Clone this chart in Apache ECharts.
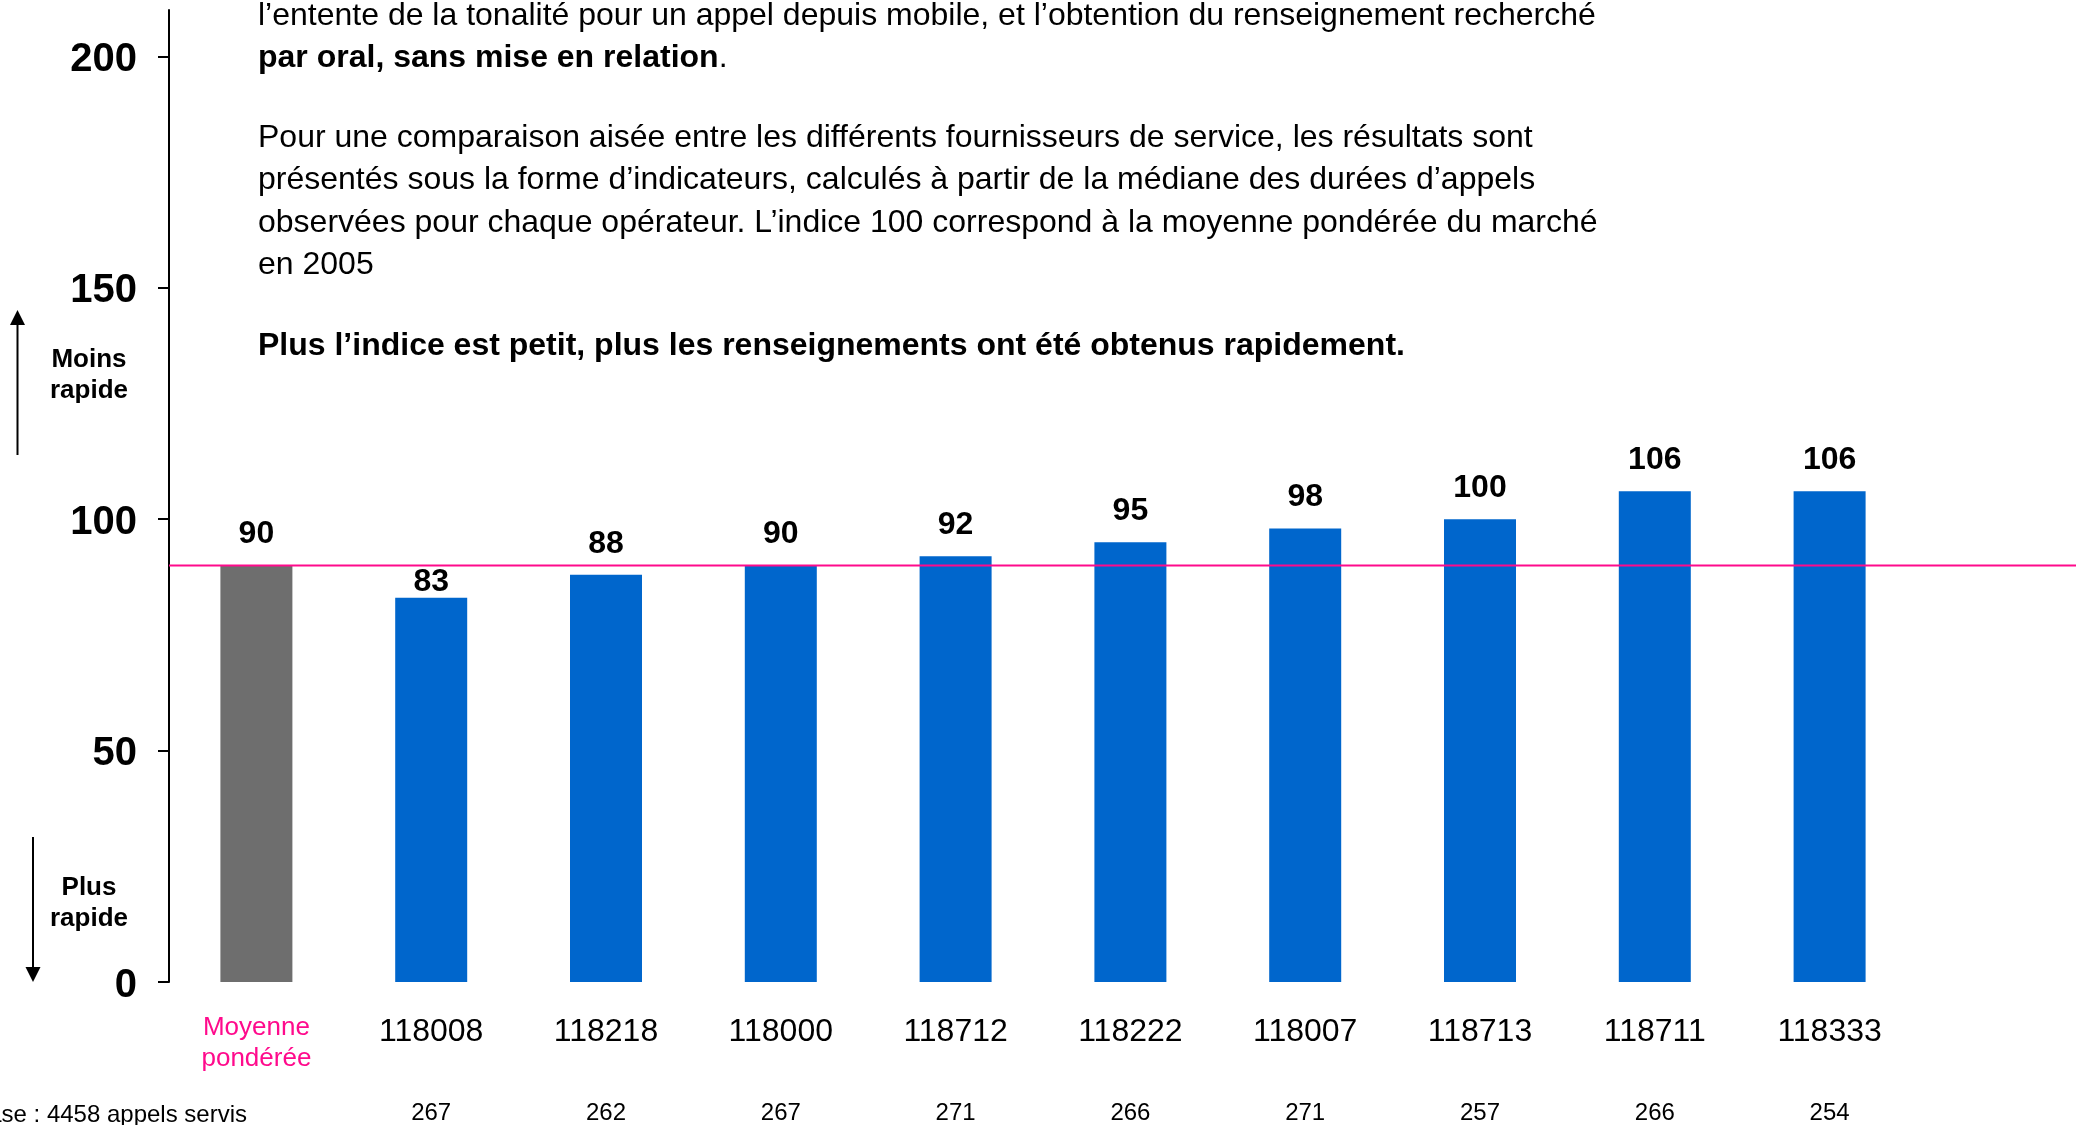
<!DOCTYPE html>
<html>
<head>
<meta charset="utf-8">
<title>Indice de rapidité</title>
<script src="https://cdn.jsdelivr.net/npm/echarts@6/dist/echarts.min.js"></script>
<style>
  html, body { margin: 0; padding: 0; background: #fff; }
  #chart { width: 2084px; height: 1125px; }
</style>
</head>
<body>
<div id="chart"></div>
<script>
// données
const categories = ['Moyenne pondérée', '118008', '118218', '118000', '118712', '118222', '118007', '118713', '118711', '118333'];
const indices = [90, 83, 88, 90, 92, 95, 98, 100, 106, 106];
const appelsServis = ['', '267', '262', '267', '271', '266', '271', '257', '266', '254'];
const moyenne = 90;
const yTicks = [0, 50, 100, 150, 200];
const baseLabel = 'Base : 4458 appels servis';

const intro1 = 'l’entente de la tonalité pour un appel depuis mobile, et l’obtention du renseignement recherché';
const intro2Bold = 'par oral, sans mise en relation';
const intro3 = [
  'Pour une comparaison aisée entre les différents fournisseurs de service, les résultats sont',
  'présentés sous la forme d’indicateurs, calculés à partir de la médiane des durées d’appels',
  'observées pour chaque opérateur. L’indice 100 correspond à la moyenne pondérée du marché',
  'en 2005'
];
const intro4 = 'Plus l’indice est petit, plus les renseignements ont été obtenus rapidement.';

const FONT = '"Liberation Sans", Arial, sans-serif';
const PINK = '#ff0a8c';
const BLUE = '#0066cc';
const GREY = '#6e6e6e';

const myChart = echarts.init(document.getElementById('chart'), null, { renderer: 'canvas' });

// barres : la première (moyenne) en gris
const barData = indices.map((v, i) => ({
  value: v,
  itemStyle: { color: i === 0 ? GREY : BLUE },
  // étiquette rapprochée quand elle croiserait la ligne de moyenne
  label: { distance: v < moyenne - 3 ? 0 : 15 }
}));

function txt(x, y, text, extra) {
  return {
    type: 'text',
    x: x,
    y: y,
    silent: true,
    style: Object.assign({
      text: text,
      fontFamily: FONT,
      fontSize: 32,
      fill: '#000',
      align: 'left',
      verticalAlign: 'middle'
    }, extra || {})
  };
}

const introX = 258;
const graphics = [
  txt(introX, 16, intro1),
  txt(introX, 58, '{b|' + intro2Bold + '}{r|.}', {
    rich: {
      b: { fontFamily: FONT, fontSize: 32, fontWeight: 'bold', fill: '#000' },
      r: { fontFamily: FONT, fontSize: 32, fill: '#000' }
    }
  }),
  txt(introX, 138, intro3[0]),
  txt(introX, 180.5, intro3[1]),
  txt(introX, 223, intro3[2]),
  txt(introX, 265.5, intro3[3]),
  txt(introX, 346, intro4, { fontWeight: 'bold' }),

  // flèche vers le haut : moins rapide
  { type: 'line', silent: true, shape: { x1: 17.5, y1: 324, x2: 17.5, y2: 455 }, style: { stroke: '#000', lineWidth: 2 } },
  { type: 'polygon', silent: true, shape: { points: [[10, 325], [25, 325], [17.5, 310]] }, style: { fill: '#000' } },
  txt(89, 375, 'Moins\nrapide', { fontSize: 26, fontWeight: 'bold', align: 'center', lineHeight: 31 }),

  // flèche vers le bas : plus rapide
  { type: 'line', silent: true, shape: { x1: 33, y1: 837, x2: 33, y2: 968 }, style: { stroke: '#000', lineWidth: 2 } },
  { type: 'polygon', silent: true, shape: { points: [[25.5, 967], [40.5, 967], [33, 982]] }, style: { fill: '#000' } },
  txt(89, 903, 'Plus\nrapide', { fontSize: 26, fontWeight: 'bold', align: 'center', lineHeight: 31 }),

  txt(247, 1115, baseLabel, { fontSize: 24, align: 'right' })
];

const option = {
  animation: false,
  backgroundColor: '#fff',
  textStyle: { fontFamily: FONT },
  grid: {
    left: 169,
    right: 167,
    top: 10,
    bottom: 142,
    containLabel: false
  },
  xAxis: [
    {
      type: 'category',
      data: categories,
      axisLine: { show: false },
      axisTick: { show: false },
      splitLine: { show: false },
      axisLabel: {
        interval: 0,
        margin: 30,
        fontFamily: FONT,
        fontSize: 32,
        color: '#000',
        formatter: function (value, index) {
          if (index === 0) {
            return value.split(' ').map(w => '{pink|' + w + '}').join('\n');
          }
          return '{num|' + value + '}';
        },
        rich: {
          pink: { fontFamily: FONT, fontSize: 26, color: PINK, lineHeight: 31 },
          num: { fontFamily: FONT, fontSize: 32, color: '#000', padding: [4, 0, 0, 0] }
        }
      }
    },
    {
      type: 'category',
      position: 'bottom',
      offset: 100,
      data: appelsServis,
      axisLine: { show: false },
      axisTick: { show: false },
      splitLine: { show: false },
      axisLabel: {
        interval: 0,
        margin: 19,
        fontFamily: FONT,
        fontSize: 24,
        color: '#000'
      }
    }
  ],
  yAxis: {
    type: 'value',
    min: 0,
    max: 210,
    interval: 50,
    splitLine: { show: false },
    axisLine: { show: true, lineStyle: { color: '#000', width: 2 } },
    axisTick: {
      show: true,
      length: 11,
      customValues: yTicks,
      lineStyle: { color: '#000', width: 2 }
    },
    axisLabel: {
      margin: 32,
      customValues: yTicks,
      formatter: function (v) { return '{y|' + v + '}'; },
      rich: {
        y: { fontFamily: FONT, fontSize: 40, fontWeight: 'bold', color: '#000', padding: [7, 0, 0, 0] }
      }
    }
  },
  series: [
    {
      name: 'Indice',
      type: 'bar',
      xAxisIndex: 0,
      barWidth: 72,
      data: barData,
      label: {
        show: true,
        position: 'top',
        fontFamily: FONT,
        fontSize: 32,
        fontWeight: 'bold',
        color: '#000'
      }
    }
  ],
  graphic: graphics
};

myChart.setOption(option);

// ligne de la moyenne pondérée, prolongée jusqu'au bord droit
const yMoy = myChart.convertToPixel({ yAxisIndex: 0 }, moyenne);
myChart.setOption({
  graphic: graphics.concat([
    {
      type: 'line',
      silent: true,
      z: 100,
      shape: { x1: 169, y1: yMoy, x2: 2076, y2: yMoy },
      style: { stroke: PINK, lineWidth: 2 }
    }
  ])
});
</script>
</body>
</html>
